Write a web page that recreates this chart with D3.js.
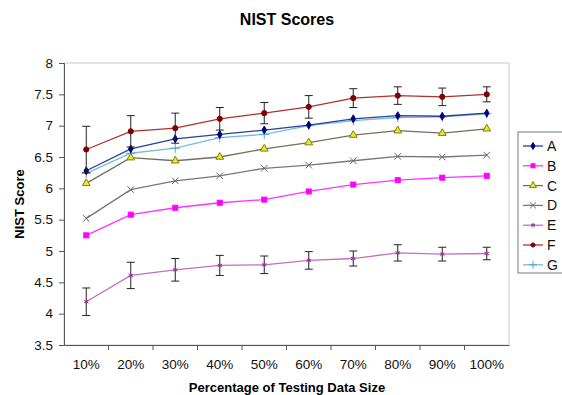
<!DOCTYPE html>
<html>
<head>
<meta charset="utf-8">
<script src="https://cdn.jsdelivr.net/npm/d3@7"></script>
<style>
  body { margin: 0; background: #fff; }
  svg { font-family: "Liberation Sans", Arial, sans-serif; }
</style>
</head>
<body>
<div class="chart"></div>
<script>
const categories = ['10%', '20%', '30%', '40%', '50%', '60%', '70%', '80%', '90%', '100%']
const yTicks = [3.5, 4, 4.5, 5, 5.5, 6, 6.5, 7, 7.5, 8]

const seriesA = [6.28, 6.63, 6.79, 6.86, 6.93, 7.01, 7.11, 7.16, 7.15, 7.2]
const seriesB = [5.25, 5.58, 5.69, 5.77, 5.82, 5.95, 6.06, 6.13, 6.17, 6.2]
const seriesC = [6.08, 6.49, 6.44, 6.5, 6.63, 6.73, 6.85, 6.92, 6.88, 6.95]
const seriesD = [5.52, 5.98, 6.12, 6.2, 6.32, 6.37, 6.44, 6.51, 6.5, 6.53]
const seriesE = [4.19, 4.61, 4.7, 4.77, 4.78, 4.85, 4.88, 4.97, 4.95, 4.96]
const errorE = [0.22, 0.21, 0.18, 0.16, 0.14, 0.14, 0.12, 0.13, 0.11, 0.1]
const seriesF = [6.62, 6.91, 6.96, 7.11, 7.2, 7.3, 7.44, 7.48, 7.46, 7.5]
const errorF = [0.37, 0.25, 0.24, 0.18, 0.17, 0.18, 0.15, 0.14, 0.14, 0.12]
const seriesG = [6.24, 6.56, 6.64, 6.81, 6.86, 7.0, 7.08, 7.13, 7.14, 7.19]

const series = [
    { name: 'A', values: seriesA, line: '#2a3f9c', fill: '#000080', stroke: '#000080', marker: 'diamond' },
    { name: 'B', values: seriesB, line: '#ff33ff', fill: '#ff00ff', stroke: '#ff00ff', marker: 'square' },
    { name: 'C', values: seriesC, line: '#707060', fill: '#e8e830', stroke: '#808000', marker: 'triangle' },
    { name: 'D', values: seriesD, line: '#777777', fill: 'none', stroke: '#666666', marker: 'x' },
    { name: 'E', values: seriesE, line: '#c070c0', fill: 'none', stroke: '#903090', marker: 'star', err: errorE },
    { name: 'F', values: seriesF, line: '#b03030', fill: '#800000', stroke: '#800000', marker: 'circle', err: errorF },
    { name: 'G', values: seriesG, line: '#70c0d8', fill: 'none', stroke: '#50a8c8', marker: 'plus' }
]

const width = 562
const height = 395
const margin = { top: 63, right: 53, bottom: 50, left: 64 }

const svg = d3.select('.chart')
    .append('svg')
    .attr('width', width)
    .attr('height', height)

const x = d3.scaleBand()
    .domain(categories)
    .range([margin.left, width - margin.right])

const y = d3.scaleLinear()
    .domain([3.5, 8])
    .range([height - margin.bottom, margin.top])

// plot frame
svg.append('rect')
    .attr('x', margin.left)
    .attr('y', margin.top)
    .attr('width', width - margin.right - margin.left)
    .attr('height', height - margin.bottom - margin.top)
    .attr('fill', '#fff')
    .attr('stroke', '#c8c8c8')

// y axis
const yAxis = svg.append('g')
    .attr('transform', `translate(${margin.left},0)`)
    .call(d3.axisLeft(y).tickValues(yTicks).tickSize(5).tickPadding(6).tickFormat(d3.format('')))
yAxis.select('.domain').attr('stroke', '#555')
yAxis.selectAll('.tick line').attr('stroke', '#555')
yAxis.selectAll('text').attr('font-size', 13.5).attr('fill', '#111')

// x axis, ticks between categories
const xAxis = svg.append('g')
    .attr('transform', `translate(0,${height - margin.bottom})`)
    .call(d3.axisBottom(x).tickSize(0).tickPadding(14))
xAxis.select('.domain').attr('stroke', '#555')
xAxis.selectAll('text').attr('font-size', 13.5).attr('fill', '#111')
xAxis.selectAll('.sep')
    .data(categories.slice(1))
    .enter()
    .append('line')
    .attr('x1', d => x(d))
    .attr('x2', d => x(d))
    .attr('y1', 0)
    .attr('y2', 5)
    .attr('stroke', '#555')

const cx = (d, i) => x(categories[i]) + x.bandwidth() / 2

const drawMarker = (g, s, k) => {
    const filled = el => el.attr('fill', s.fill).attr('stroke', s.stroke).attr('stroke-width', 1)
    const stroked = el => el.attr('fill', 'none').attr('stroke', s.stroke).attr('stroke-width', 1)
    if (s.marker === 'diamond') {
        filled(g.append('path').attr('d', d3.symbol(d3.symbolDiamond, 18 * k)()))
    } else if (s.marker === 'square') {
        filled(g.append('rect').attr('x', -2.5 * k).attr('y', -2.5 * k).attr('width', 5 * k).attr('height', 5 * k))
    } else if (s.marker === 'triangle') {
        filled(g.append('path').attr('d', d3.symbol(d3.symbolTriangle, 26 * k)()))
    } else if (s.marker === 'circle') {
        filled(g.append('circle').attr('r', 2.6 * k))
    } else if (s.marker === 'x') {
        stroked(g.append('path').attr('d', d3.symbol(d3.symbolTimes, 30 * k)()))
    } else if (s.marker === 'plus') {
        stroked(g.append('path').attr('d', d3.symbol(d3.symbolPlus, 30 * k)()))
    } else if (s.marker === 'star') {
        stroked(g.append('path').attr('d', d3.symbol(d3.symbolAsterisk, 18 * k)()))
    }
}

const line = d3.line()
    .x(cx)
    .y(d => y(d))

// draw order so that A sits over G like the original
const order = ['G', 'D', 'B', 'C', 'E', 'A', 'F']
order.forEach(name => {
    const s = series.find(d => d.name === name)
    const g = svg.append('g').attr('class', 'series-' + s.name)

    if (s.err) {
        const eb = g.selectAll('.err')
            .data(s.values)
            .enter()
            .append('g')
            .attr('stroke', '#222')
            .attr('stroke-width', 1)
        eb.append('line')
            .attr('x1', cx).attr('x2', cx)
            .attr('y1', (d, i) => y(d - s.err[i]))
            .attr('y2', (d, i) => y(d + s.err[i]))
        eb.append('line')
            .attr('x1', (d, i) => cx(d, i) - 4).attr('x2', (d, i) => cx(d, i) + 4)
            .attr('y1', (d, i) => y(d + s.err[i])).attr('y2', (d, i) => y(d + s.err[i]))
        eb.append('line')
            .attr('x1', (d, i) => cx(d, i) - 4).attr('x2', (d, i) => cx(d, i) + 4)
            .attr('y1', (d, i) => y(d - s.err[i])).attr('y2', (d, i) => y(d - s.err[i]))
    }

    g.append('path')
        .datum(s.values)
        .attr('d', line)
        .attr('fill', 'none')
        .attr('stroke', s.line)
        .attr('stroke-width', 1.3)

    g.selectAll('.pt')
        .data(s.values)
        .enter()
        .append('g')
        .attr('transform', (d, i) => `translate(${cx(d, i)},${y(d)})`)
        .each(function () { drawMarker(d3.select(this), s, 1) })
})

// legend
const legend = svg.append('g').attr('transform', 'translate(518,132)')
legend.append('rect')
    .attr('width', 50)
    .attr('height', 141)
    .attr('fill', '#fff')
    .attr('stroke', '#777')

series.forEach((s, i) => {
    const row = legend.append('g').attr('transform', `translate(0,${14 + i * 19.8})`)
    row.append('line')
        .attr('x1', 5).attr('x2', 25)
        .attr('stroke', s.line).attr('stroke-width', 1.3)
    const m = row.append('g').attr('transform', 'translate(15,0)')
    drawMarker(m, s, 0.8)
    row.append('text')
        .attr('x', 29)
        .attr('y', 5)
        .attr('font-size', 14)
        .attr('fill', '#111')
        .text(s.name)
})

// titles
svg.append('text')
    .attr('x', 287)
    .attr('y', 25)
    .attr('text-anchor', 'middle')
    .attr('font-size', 16)
    .attr('font-weight', 'bold')
    .text('NIST Scores')

svg.append('text')
    .attr('x', 287)
    .attr('y', 392)
    .attr('text-anchor', 'middle')
    .attr('font-size', 13)
    .attr('font-weight', 'bold')
    .text('Percentage of Testing Data Size')

svg.append('text')
    .attr('transform', `translate(24,${(margin.top + height - margin.bottom) / 2}) rotate(-90)`)
    .attr('text-anchor', 'middle')
    .attr('font-size', 13)
    .attr('font-weight', 'bold')
    .text('NIST Score')
</script>
</body>
</html>
